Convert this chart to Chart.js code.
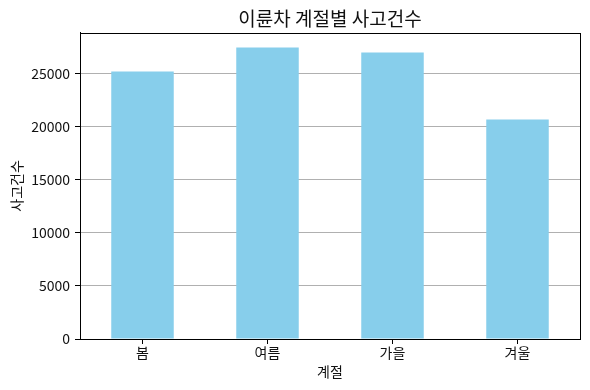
<!DOCTYPE html>
<html><head><meta charset="utf-8">
<script src="https://cdn.jsdelivr.net/npm/chart.js@4"></script>
<style>html,body{margin:0;padding:0;background:#fff}#wrap{width:590px;height:390px}</style>
</head><body><div id="wrap"><canvas id="c" width="590" height="390"></canvas></div>
<script>
const categories = ['봄', '여름', '가을', '겨울'];
const accidents = [25220, 27480, 27010, 20690];
const yTicks = [0, 5000, 10000, 15000, 20000, 25000];
const yMax = 28875;

const FONT = '"Noto Sans CJK KR", "DejaVu Sans", sans-serif';
const frame = {
  id: 'frame',
  afterDatasetsDraw(chart) {
    const a = chart.chartArea, ctx = chart.ctx;
    ctx.save();
    ctx.strokeStyle = '#000';
    ctx.lineWidth = 1;
    ctx.strokeRect(Math.round(a.left) + 0.5, Math.round(a.top) + 0.5, Math.round(a.right - a.left), Math.round(a.bottom - a.top));
    ctx.restore();
  }
};
new Chart(document.getElementById('c'), {
  type: 'bar',
  data: { labels: categories, datasets: [{ data: accidents, backgroundColor: '#87CEEB', barPercentage: 0.5, categoryPercentage: 1.0 }] },
  options: {
    responsive: false, animation: false, devicePixelRatio: 1,
    layout: { padding: { left: 8, right: 10, top: 0, bottom: 10 } },
    plugins: {
      legend: { display: false }, tooltip: { enabled: false },
      title: { display: true, fullSize: false, text: '이륜차 계절별 사고건수', color: '#111', font: { family: FONT, size: 19, weight: 'normal' }, padding: { top: 7, bottom: 3 } }
    },
    scales: {
      x: {
        grid: { display: true, offset: false, drawOnChartArea: false, drawTicks: true, tickLength: 5, tickColor: '#000' },
        border: { display: true, color: '#000' },
        ticks: { color: '#111', font: { family: FONT, size: 14 }, padding: 0, maxRotation: 0 },
        title: { display: true, text: '계절', color: '#111', font: { family: FONT, size: 14 }, padding: { top: 0, bottom: 0 } },
        afterFit(s) { s.height = 41; }
      },
      y: {
        min: 0, max: yMax,
        afterBuildTicks(s) { s.ticks = yTicks.map(v => ({ value: v })); },
        grid: { color: '#b0b0b0', lineWidth: 1, drawTicks: true, tickLength: 5, tickColor: '#000' },
        border: { display: true, color: '#000' },
        ticks: { color: '#111', font: { family: FONT, size: 14 }, padding: 5, callback: v => String(v) },
        title: { display: true, text: '사고건수', color: '#111', font: { family: FONT, size: 14 }, padding: { top: 0, bottom: 0 } },
        afterFit(s) { s.width = 72; }
      }
    }
  },
  plugins: [frame]
});
</script></body></html>
